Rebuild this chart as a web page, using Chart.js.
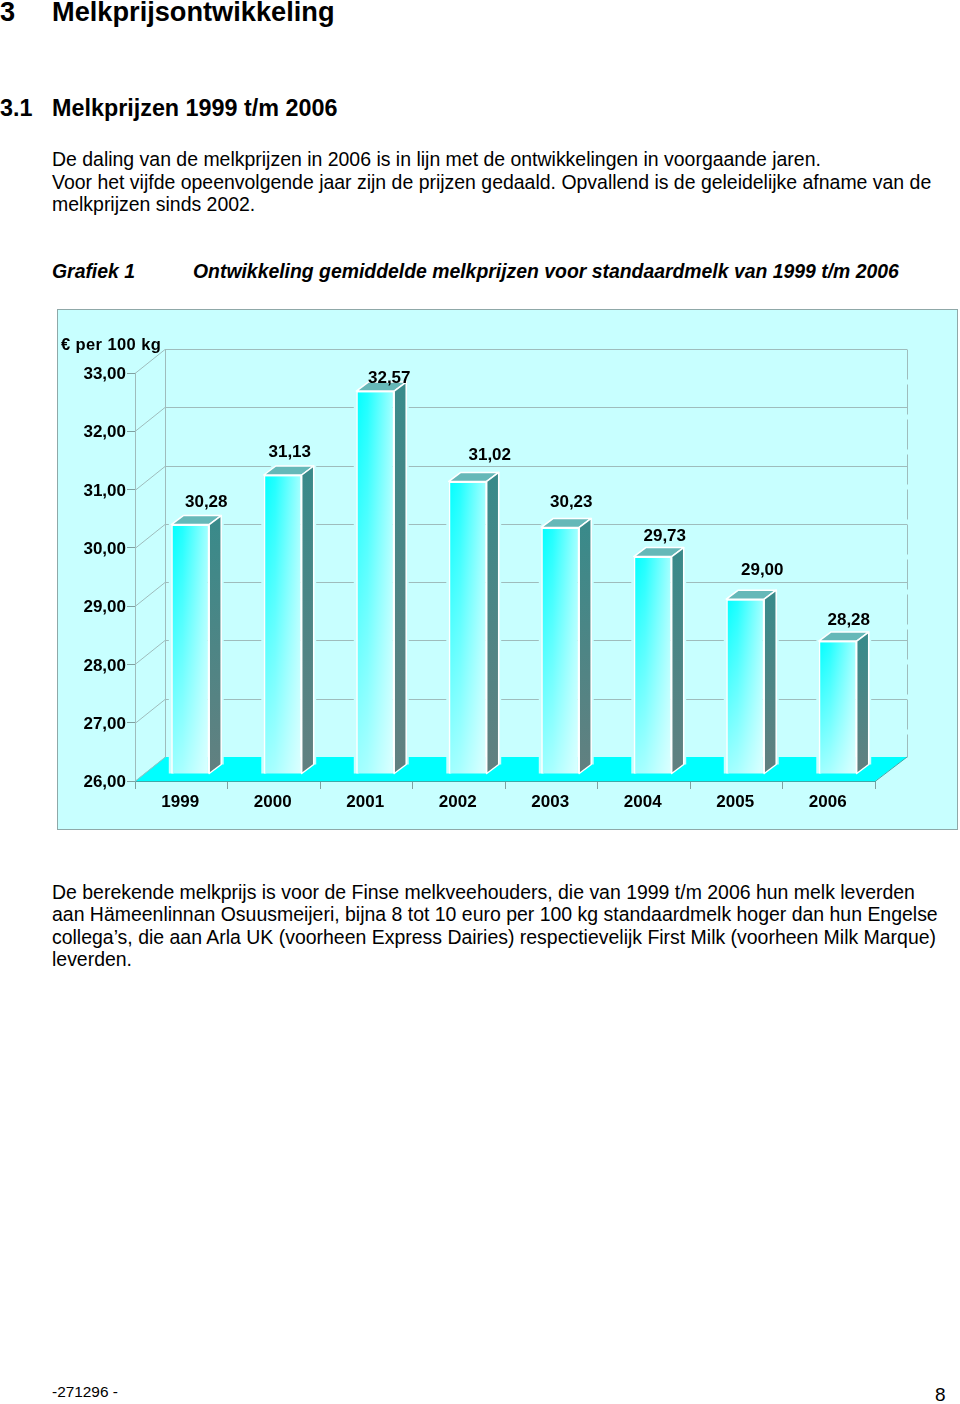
<!DOCTYPE html>
<html lang="nl">
<head>
<meta charset="utf-8">
<title>Melkprijsontwikkeling</title>
<script src="https://cdn.jsdelivr.net/npm/chart.js@4"></script>
<style>
    html, body { margin: 0; padding: 0; background: #fff; }
    body { position: relative; width: 960px; height: 1404px; overflow: hidden; font-family: "Liberation Sans", Arial, sans-serif; color: #000; }
    .t { position: absolute; white-space: nowrap; line-height: 1; }
    .body { font-size: 19.47px; }
    .cap { font-size: 19.4px; font-weight: bold; font-style: italic; }
    #frame { position: absolute; left: 57px; top: 309px; width: 899px; height: 519px; border: 1px solid #8fa8a8; background: #c8ffff; }
</style>
</head>
<body>
<div class="t" style="left:0;top:-2px;font-size:27.2px;font-weight:bold">3</div>
<div class="t" style="left:52px;top:-2px;font-size:27.2px;font-weight:bold">Melkprijsontwikkeling</div>
<div class="t" style="left:0;top:97px;font-size:23.35px;font-weight:bold">3.1</div>
<div class="t" style="left:52px;top:97px;font-size:23.35px;font-weight:bold">Melkprijzen 1999 t/m 2006</div>
<div class="t body" style="left:52px;top:150px">De daling van de melkprijzen in 2006 is in lijn met de ontwikkelingen in voorgaande jaren.</div>
<div class="t body" style="left:52px;top:173px">Voor het vijfde opeenvolgende jaar zijn de prijzen gedaald. Opvallend is de geleidelijke afname van de</div>
<div class="t body" style="left:52px;top:195px">melkprijzen sinds 2002.</div>
<div class="t cap" style="left:52px;top:262px">Grafiek 1</div>
<div class="t cap" style="left:193px;top:262px">Ontwikkeling gemiddelde melkprijzen voor standaardmelk van 1999 t/m 2006</div>
<div id="frame"><canvas id="milkChart" width="899" height="519"></canvas></div>
<div class="t body" style="left:52px;top:883px">De berekende melkprijs is voor de Finse melkveehouders, die van 1999 t/m 2006 hun melk leverden</div>
<div class="t body" style="left:52px;top:905px">aan Hämeenlinnan Osuusmeijeri, bijna 8 tot 10 euro per 100 kg standaardmelk hoger dan hun Engelse</div>
<div class="t body" style="left:52px;top:928px">collega’s, die aan Arla UK (voorheen Express Dairies) respectievelijk First Milk (voorheen Milk Marque)</div>
<div class="t body" style="left:52px;top:950px">leverden.</div>
<div class="t" style="left:52px;top:1384px;font-size:15.4px">-271296 -</div>
<div class="t" style="left:935px;top:1385px;font-size:19px">8</div>
<script>
const years = ['1999', '2000', '2001', '2002', '2003', '2004', '2005', '2006'];
const prices = [30.28, 31.13, 32.57, 31.02, 30.23, 29.73, 29.00, 28.28];
const axisMin = 26;
const axisMax = 33;
const unitLabel = '€ per 100 kg';

const fmt = v => v.toFixed(2).replace('.', ',');

// the value labels sit loose around the bars in the original
const labelShift = [[16, -22], [7, -23], [14, -13], [22, -26], [11, -25], [12, -20], [17, -29], [11, -21]];

const wallX = 30, wallY = 24;   // depth of the back wall
const barX = 9, barY = 7;       // bars stand a bit behind the front edge
const sideX = 12, sideY = 9;    // depth of one bar
const barShare = 0.41;

const box3d = {
    id: 'box3d',
    beforeDatasetsDraw(chart) {
        const { ctx, chartArea: a, scales: { y } } = chart;
        ctx.save();

        // floor
        ctx.fillStyle = '#00ffff';
        ctx.beginPath();
        ctx.moveTo(a.left, a.bottom);
        ctx.lineTo(a.right, a.bottom);
        ctx.lineTo(a.right + wallX + 2, a.bottom - wallY);
        ctx.lineTo(a.left + wallX, a.bottom - wallY);
        ctx.closePath();
        ctx.fill();
        ctx.strokeStyle = '#3fa8a8';
        ctx.lineWidth = 1;
        ctx.beginPath();
        ctx.moveTo(a.left, a.bottom + 0.5);
        ctx.lineTo(a.right, a.bottom + 0.5);
        ctx.lineTo(a.right + wallX + 2, a.bottom - wallY);
        ctx.stroke();

        // back wall grid and the diagonals to the front axis
        ctx.strokeStyle = '#9fbcbc';
        y.ticks.forEach(t => {
            const py = Math.round(y.getPixelForValue(t.value)) + 0.5;
            ctx.beginPath();
            ctx.moveTo(a.left, py);
            ctx.lineTo(a.left + wallX, py - wallY);
            if (t.value !== axisMin) ctx.lineTo(a.right + wallX + 2, py - wallY);
            ctx.stroke();
        });
        const topY = Math.round(y.getPixelForValue(axisMax)) - wallY + 0.5;
        const botY = Math.round(y.getPixelForValue(axisMin)) - wallY + 0.5;
        ctx.beginPath();
        ctx.moveTo(a.left + wallX + 0.5, topY);
        ctx.lineTo(a.left + wallX + 0.5, botY);
        ctx.stroke();
        ctx.setLineDash([30, 5]);
        ctx.beginPath();
        ctx.moveTo(a.right + wallX + 2.5, topY);
        ctx.lineTo(a.right + wallX + 2.5, botY);
        ctx.stroke();
        ctx.restore();
    },
    beforeDatasetDraw(chart) {
        const { ctx } = chart;
        ctx.save();
        ctx.translate(barX, -barY);
        chart.getDatasetMeta(0).data.forEach(bar => {
            const l = bar.x - bar.width / 2, r = bar.x + bar.width / 2;
            ctx.lineJoin = 'round';

            // gap in the grid around the whole box
            ctx.strokeStyle = '#c8ffff';
            ctx.lineWidth = 5;
            ctx.beginPath();
            ctx.moveTo(l, bar.base);
            ctx.lineTo(l, bar.y);
            ctx.lineTo(l + sideX, bar.y - sideY);
            ctx.lineTo(r + sideX, bar.y - sideY);
            ctx.lineTo(r + sideX, bar.base - sideY);
            ctx.stroke();

            // white halo, then top and side faces
            ctx.strokeStyle = '#ffffff';
            ctx.lineWidth = 1.5;
            ctx.fillStyle = '#66b8b8';
            ctx.beginPath();
            ctx.moveTo(l, bar.y);
            ctx.lineTo(l + sideX, bar.y - sideY);
            ctx.lineTo(r + sideX, bar.y - sideY);
            ctx.lineTo(r, bar.y);
            ctx.closePath();
            ctx.fill();
            ctx.stroke();
            const side = ctx.createLinearGradient(0, bar.y, 0, bar.base);
            side.addColorStop(0, '#3a8a8a');
            side.addColorStop(1, '#628080');
            ctx.fillStyle = side;
            ctx.beginPath();
            ctx.moveTo(r, bar.y);
            ctx.lineTo(r + sideX, bar.y - sideY);
            ctx.lineTo(r + sideX, bar.base - sideY);
            ctx.lineTo(r, bar.base);
            ctx.closePath();
            ctx.fill();
            ctx.stroke();
        });
    },
    afterDatasetDraw(chart) {
        const { ctx } = chart;
        // front face gets paler towards the floor
        chart.getDatasetMeta(0).data.forEach(bar => {
            const l = bar.x - bar.width / 2;
            const pale = ctx.createLinearGradient(0, bar.y, 0, bar.base);
            pale.addColorStop(0, 'rgba(255,255,255,0)');
            pale.addColorStop(1, 'rgba(255,255,255,0.62)');
            ctx.fillStyle = pale;
            ctx.fillRect(l, bar.y, bar.width, bar.base - bar.y);
        });
        ctx.restore();
    },
    afterDatasetsDraw(chart) {
        const { ctx, chartArea: a } = chart;
        ctx.save();
        ctx.fillStyle = '#000';
        ctx.font = 'bold 17px "Liberation Sans"';
        ctx.textAlign = 'center';
        ctx.textBaseline = 'middle';
        chart.getDatasetMeta(0).data.forEach((bar, i) => {
            ctx.fillText(fmt(prices[i]), bar.x + barX + labelShift[i][0], bar.y - barY + labelShift[i][1]);
        });
        ctx.textAlign = 'left';
        ctx.font = 'bold 16.5px "Liberation Sans"';
        ctx.letterSpacing = '0.4px';
        ctx.fillText(unitLabel, 3, a.top - 28);
        ctx.restore();
    }
};

function barFill(context) {
    const { chart, dataIndex } = context;
    const xScale = chart.scales.x;
    const cx = xScale ? xScale.getPixelForValue(dataIndex) : NaN;
    if (!Number.isFinite(cx)) return '#00ffff';
    const half = xScale.width / years.length * barShare / 2;
    const g = chart.ctx.createLinearGradient(cx - half, 0, cx + half, 0);
    g.addColorStop(0, '#00ffff');
    g.addColorStop(0.3, '#20ffff');
    g.addColorStop(1, '#a8ffff');
    return g;
}

new Chart(document.getElementById('milkChart').getContext('2d'), {
    type: 'bar',
    data: {
        labels: years,
        datasets: [{
            data: prices,
            base: axisMin,
            backgroundColor: barFill,
            borderColor: '#ffffff',
            borderWidth: 1.5,
            barPercentage: barShare,
            categoryPercentage: 1,
            clip: false
        }]
    },
    options: {
        responsive: false,
        animation: false,
        layout: { padding: { left: 0, right: 82, top: 63, bottom: 0 } },
        plugins: { legend: { display: false }, tooltip: { enabled: false }, title: { display: false } },
        scales: {
            x: {
                grid: { drawOnChartArea: false, color: '#7fa0a0', tickLength: 8 },
                border: { color: '#3fa8a8' },
                ticks: { color: '#000', font: { family: '"Liberation Sans"', size: 17, weight: 'bold' }, padding: 3, labelOffset: -1, maxRotation: 0 },
                afterFit(scale) { scale.height = 48; }
            },
            y: {
                min: axisMin,
                max: axisMax,
                grid: { drawOnChartArea: false, color: '#7fa0a0', tickLength: 8 },
                border: { color: '#9fbcbc' },
                ticks: { stepSize: 1, color: '#000', font: { family: '"Liberation Sans"', size: 17, weight: 'bold' }, padding: 1, labelOffset: 1.5, callback: v => fmt(v) },
                afterFit(scale) { scale.width = 77; }
            }
        }
    },
    plugins: [box3d]
});
</script>
</body>
</html>
